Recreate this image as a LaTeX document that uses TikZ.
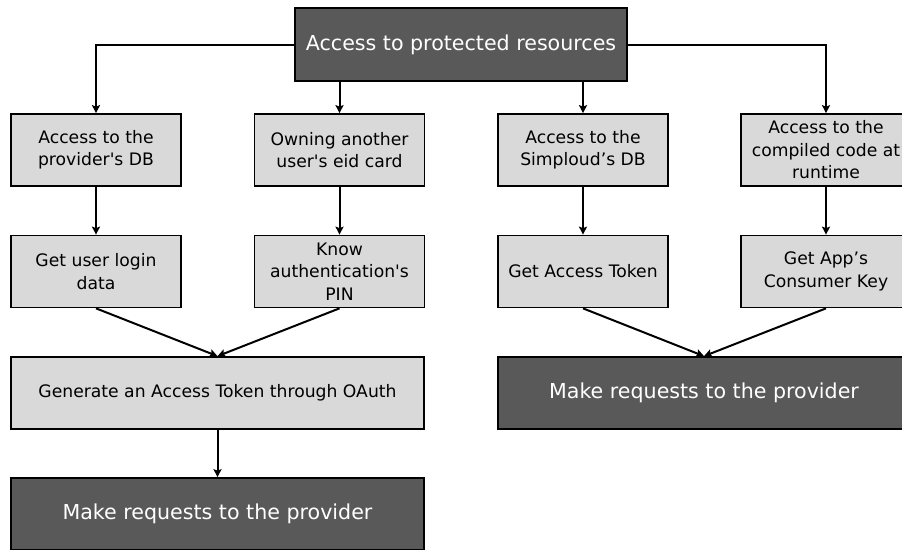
\documentclass[tikz,border=0pt]{standalone}
\usepackage{fontspec}
\setmainfont{DejaVu Sans}[Ligatures=TeXOff]
\usetikzlibrary{arrows.meta}
\definecolor{darkfill}{HTML}{595959}
\definecolor{lightfill}{HTML}{D9D9D9}
\begin{document}
\begin{tikzpicture}[x=1pt,y=-1pt,
  box/.style={draw=black,line width=1.7pt,inner sep=0pt,align=center},
  lightbox/.style={box,fill=lightfill,text=black,minimum width=170pt,minimum height=72pt,
    font=\fontsize{17.2}{22.5}\selectfont},
  widebox/.style={box,fill=lightfill,text=black,minimum width=413pt,minimum height=72pt,
    font=\fontsize{17.2}{22.5}\selectfont},
  darkbox/.style={box,fill=darkfill,text=white,minimum height=73pt,
    font=\fontsize{20.6}{24}\selectfont},
  arr/.style={draw=black,line width=2pt,-{Stealth[length=8pt,width=8pt,inset=1.5pt]}}
]
\clip (0,0) rectangle (902,549);
\fill[white] (0,0) rectangle (902,549);

% root
\node[darkbox,minimum width=332pt] (top) at (461,44.5) {Access to protected resources};

% first row
\node[lightbox] (a1) at (96,150) {Access to the\\provider's DB};
\node[lightbox] (b1) at (339.5,150) {Owning another\\user's eid card};
\node[lightbox] (c1) at (583,150) {Access to the\\Simploud’s DB};
\node[lightbox] (d1) at (826,150) {Access to the\\compiled code at\\runtime};

% second row
\node[lightbox] (a2) at (96,271.5) {Get user login\\data};
\node[lightbox] (b2) at (339.5,271.5) {Know\\authentication's\\PIN};
\node[lightbox] (c2) at (583,271.5) {Get Access Token};
\node[lightbox] (d2) at (826,271.5) {Get App’s\\Consumer Key};

% merge boxes
\node[widebox] (gen) at (217.5,393) {Generate an Access Token through OAuth};
\node[darkbox,minimum width=412pt,minimum height=72pt] (mk2) at (704,393) {Make requests to the provider};
\node[darkbox,minimum width=413pt,minimum height=72pt] (mk1) at (217.5,514) {Make requests to the provider};

% connectors
\draw[arr] (top.west) -| (a1.north);
\draw[arr] (top.east) -| (d1.north);
\draw[arr] (b1.north |- top.south) -- (b1.north);
\draw[arr] (c1.north |- top.south) -- (c1.north);
\draw[arr] (a1) -- (a2);
\draw[arr] (b1) -- (b2);
\draw[arr] (c1) -- (c2);
\draw[arr] (d1) -- (d2);
\draw[arr] (a2.south) -- (gen.north);
\draw[arr] (b2.south) -- (gen.north);
\draw[arr] (c2.south) -- (mk2.north);
\draw[arr] (d2.south) -- (mk2.north);
\draw[arr] (gen) -- (mk1);
\end{tikzpicture}
\end{document}
